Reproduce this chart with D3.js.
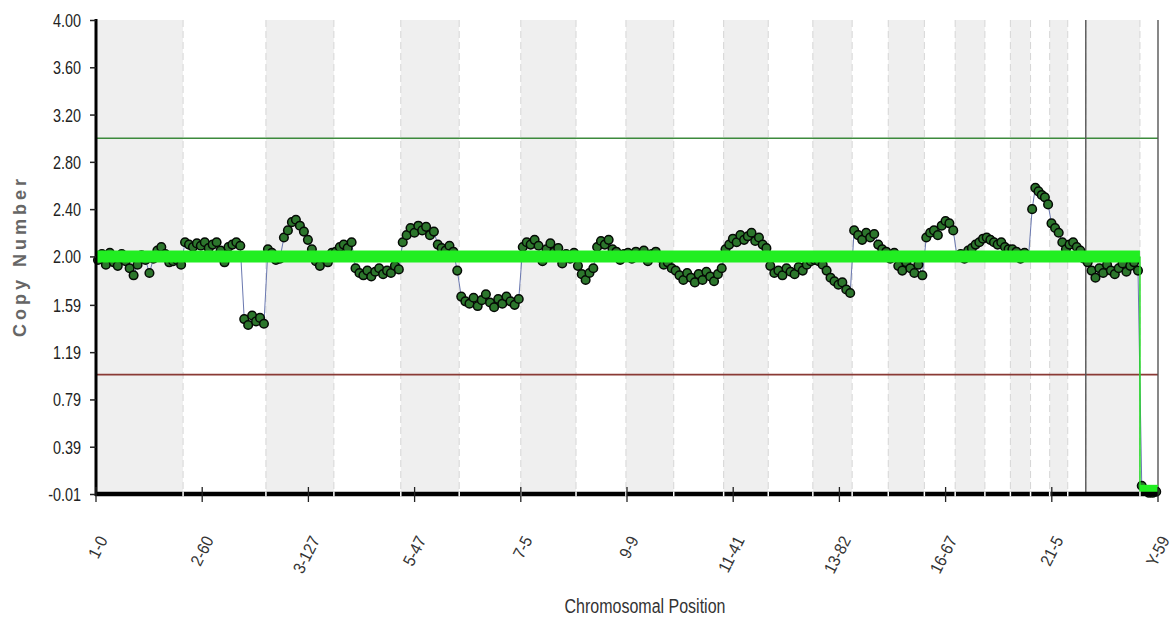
<!DOCTYPE html>
<html>
<head>
<meta charset="utf-8">
<script src="https://cdn.jsdelivr.net/npm/d3@7"></script>
<style>
  html,body{margin:0;padding:0;background:#fff}
  svg{display:block}
  text{font-family:"Liberation Sans",Arial,sans-serif}
</style>
</head>
<body>
<svg id="chart" width="1176" height="627"></svg>
<script>
// probe index runs 0..1000 along the genome; chromosome edges in that unit
const chromNames = ['1','2','3','4','5','6','7','8','9','10','11','12','13','14','15','16','17','18','19','20','21','22','X','Y'];
const chromEdges = [0, 82, 160, 224, 287, 342, 400, 452, 499, 544, 591, 633, 675, 712, 746, 780, 809, 837, 861, 880, 898, 915, 932, 983, 1000];
const refLevel = [2,2,2,2,2,2,2,2,2,2,2,2,2,2,2,2,2,2,2,2,2,2,2,0];

const xTickPos = [0, 100, 200, 300, 400, 500, 600, 700, 800, 900, 1000];
const xTickLabels = ['1-0', '2-60', '3-127', '5-47', '7-5', '9-9', '11-41', '13-82', '16-67', '21-5', 'Y-59'];
const yTicks = [-0.01, 0.39, 0.79, 1.19, 1.59, 2.00, 2.40, 2.80, 3.20, 3.60, 4.00];
const gainLine = 3.0;
const lossLine = 1.0;

// copy number per probe
const chr1 = [1.97, 2.02, 1.93, 2.03, 1.95, 1.92, 2.02, 1.96, 1.90, 1.84, 1.93, 2.01, 1.97, 1.86, 1.98, 2.05, 2.08, 2.02, 1.95, 1.96, 1.97, 1.93];
const chr2 = [2.12, 2.10, 2.08, 2.11, 2.09, 2.12, 2.07, 2.10, 2.12, 2.05, 1.95, 2.08, 2.10, 2.12, 2.09, 1.47, 1.42, 1.50, 1.45, 1.48, 1.43];
const chr3 = [2.06, 2.03, 1.97, 1.98, 2.16, 2.22, 2.29, 2.31, 2.26, 2.21, 2.14, 2.06, 1.96, 1.92, 2.00, 1.95, 2.03];
const chr4 = [2.04, 2.08, 2.10, 2.07, 2.12, 1.90, 1.86, 1.84, 1.88, 1.83, 1.87, 1.90, 1.85, 1.88, 1.86, 1.92, 1.89];
const chr5 = [2.12, 2.18, 2.24, 2.20, 2.26, 2.22, 2.25, 2.18, 2.21, 2.10, 2.07, 2.05, 2.09, 2.04, 1.88];
const chr6 = [1.66, 1.62, 1.60, 1.65, 1.58, 1.63, 1.68, 1.61, 1.57, 1.64, 1.60, 1.66, 1.62, 1.59, 1.64];
const chr7 = [2.08, 2.12, 2.10, 2.14, 2.09, 1.96, 2.06, 2.11, 2.04, 2.07, 1.94, 2.02, 1.98, 2.03];
const chr8 = [1.92, 1.85, 1.80, 1.86, 1.90, 2.08, 2.13, 2.10, 2.14, 2.06, 2.04, 1.97, 2.02];
const chr9 = [2.03, 1.98, 2.04, 2.01, 2.05, 1.96, 2.02, 2.04, 1.99, 1.93, 1.95, 1.90];
const chr10 = [1.88, 1.84, 1.80, 1.86, 1.82, 1.78, 1.85, 1.80, 1.87, 1.83, 1.79, 1.85, 1.90];
const chr11 = [2.06, 2.10, 2.15, 2.12, 2.18, 2.14, 2.17, 2.20, 2.13, 2.16, 2.10, 2.07];
const chr12 = [1.92, 1.86, 1.88, 1.84, 1.90, 1.87, 1.85, 1.91, 1.88, 1.93, 1.96];
const chr13 = [1.97, 1.96, 1.93, 1.88, 1.82, 1.79, 1.76, 1.78, 1.72, 1.69];
const chr14 = [2.22, 2.18, 2.14, 2.20, 2.16, 2.19, 2.10, 2.06, 2.04];
const chr15 = [1.98, 2.03, 1.92, 1.88, 1.95, 1.90, 1.86, 1.93, 1.84];
const chr16 = [2.16, 2.20, 2.22, 2.18, 2.26, 2.30, 2.28, 2.22];
const chr17 = [2.00, 2.02, 1.98, 2.05, 2.07, 2.10, 2.12, 2.15];
const chr18 = [2.16, 2.14, 2.12, 2.10, 2.12, 2.08, 2.06];
const chr19 = [2.06, 2.04, 1.98, 2.03, 2.00];
const chr20 = [2.40, 2.58, 2.55, 2.52, 2.50, 2.44];
const chr21 = [2.28, 2.24, 2.20, 2.12, 2.06];
const chr22 = [2.10, 2.12, 2.08, 2.05, 1.98];
const chrX = [1.95, 1.88, 1.82, 1.90, 1.86, 1.93, 1.88, 1.85, 1.90, 1.94, 1.87, 1.92, 1.95, 1.88];
const chrY = [0.06, 0.02, 0.00, 0.00, 0.01];

const chromValues = [chr1, chr2, chr3, chr4, chr5, chr6, chr7, chr8, chr9, chr10, chr11, chr12,
  chr13, chr14, chr15, chr16, chr17, chr18, chr19, chr20, chr21, chr22, chrX, chrY];

const plotLeft = 96, plotRight = 1158, plotTop = 20, plotBottom = 494;

const svg = d3.select('#chart');
const x = d3.scaleLinear().domain([0, 1000]).range([plotLeft, plotRight]);
const y = d3.scaleLinear().domain([-0.01, 4.00]).range([plotBottom, plotTop]);

// points: spread evenly inside each chromosome
const pts = [];
chromValues.forEach((vals, c) => {
  const a = chromEdges[c], b = chromEdges[c + 1], n = vals.length;
  vals.forEach((v, i) => pts.push({ c, p: a + (i + 0.5) * (b - a) / n, v }));
});

// Bands
const g = svg.append('g');
g.selectAll('rect.band').data(chromNames).enter().append('rect')
  .attr('x', (d, i) => x(chromEdges[i])).attr('y', y(4.00))
  .attr('width', (d, i) => x(chromEdges[i + 1]) - x(chromEdges[i]))
  .attr('height', y(-0.01) - y(4.00))
  .attr('fill', (d, i) => i % 2 === 0 ? '#efefef' : '#ffffff');

// Chromosome boundaries
g.selectAll('line.edge').data(chromEdges.slice(1, -1)).enter().append('line')
  .attr('x1', d => x(d)).attr('x2', d => x(d))
  .attr('y1', y(4.00)).attr('y2', plotBottom)
  .attr('stroke', '#d6d6d6').attr('stroke-width', 1).attr('stroke-dasharray', '7,4');

// threshold lines
g.append('line').attr('x1', plotLeft).attr('x2', plotRight).attr('y1', y(gainLine)).attr('y2', y(gainLine))
  .attr('stroke', '#3c8a3c').attr('stroke-width', 1.6);
g.append('line').attr('x1', plotLeft).attr('x2', plotRight).attr('y1', y(lossLine)).attr('y2', y(lossLine))
  .attr('stroke', '#8a3a35').attr('stroke-width', 1.6);

// X chromosome start and right edge
[chromEdges[22], chromEdges[24]].forEach(e => {
  g.append('line').attr('x1', x(e)).attr('x2', x(e)).attr('y1', y(4.00)).attr('y2', plotBottom)
    .attr('stroke', '#555').attr('stroke-width', 1.4);
});

// probe trace
g.append('path').datum(pts)
  .attr('fill', 'none').attr('stroke', '#6a78b0').attr('stroke-width', 1)
  .attr('d', d3.line().x(d => x(d.p)).y(d => y(d.v)));

g.selectAll('circle.pt').data(pts).enter().append('circle')
  .attr('cx', d => x(d.p)).attr('cy', d => y(d.v)).attr('r', 4.3)
  .attr('fill', '#2c762c').attr('stroke', '#050a05').attr('stroke-width', 1.5);

// reference level (thick green)
const refPts = [];
refLevel.forEach((lv, c) => {
  refPts.push({ p: chromEdges[c], v: lv }, { p: chromEdges[c + 1], v: lv });
});
g.append('path').datum(refPts.slice(0, 46))
  .attr('fill', 'none').attr('stroke', '#22ee22').attr('stroke-width', 12)
  .attr('d', d3.line().x(d => x(d.p)).y(d => y(d.v)));
g.append('path').datum(refPts.slice(45, 47))
  .attr('fill', 'none').attr('stroke', '#22dd22').attr('stroke-width', 1.5)
  .attr('d', d3.line().x(d => x(d.p)).y(d => y(d.v)));
g.append('path').datum(refPts.slice(46))
  .attr('fill', 'none').attr('stroke', '#22ee22').attr('stroke-width', 8)
  .attr('d', d3.line().x(d => x(d.p)).y(d => y(d.v) - 4));

// Axes
const yAxis = g.append('g').attr('transform', `translate(${plotLeft},0)`)
  .call(d3.axisLeft(y).tickValues(yTicks).tickSize(6).tickFormat(d => d.toFixed(2)));
yAxis.attr('font-family', null).attr('font-size', null);
yAxis.select('.domain').attr('stroke', '#000').attr('stroke-width', 3)
  .attr('d', `M0,${y(4.00) - 1}V${plotBottom + 2}`);
yAxis.selectAll('.tick line').attr('stroke', '#222').attr('stroke-width', 1.5);
yAxis.selectAll('.tick text')
  .attr('x', null).attr('dy', '0.36em')
  .attr('transform', 'translate(-15,0) scale(0.8,1)')
  .attr('text-anchor', 'end')
  .style('font-size', '18px').attr('fill', '#222');

const xAxis = g.append('g').attr('transform', `translate(0,${plotBottom})`);
xAxis.append('line').attr('x1', plotLeft - 1).attr('x2', plotRight).attr('y1', 0).attr('y2', 0)
  .attr('stroke', '#000').attr('stroke-width', 4.5);
xAxis.selectAll('line.brk').data(chromEdges.slice(1, -1).filter((d, i) => i !== 21)).enter().append('line')
  .attr('x1', d => x(d)).attr('x2', d => x(d)).attr('y1', -2.5).attr('y2', 2.5)
  .attr('stroke', '#fff').attr('stroke-width', 1.5);
xAxis.selectAll('line.tk').data(xTickPos).enter().append('line')
  .attr('x1', d => x(d)).attr('x2', d => x(d)).attr('y1', -7).attr('y2', 8)
  .attr('stroke', '#222').attr('stroke-width', 1.3);
xAxis.selectAll('text.tl').data(xTickPos).enter().append('text')
  .attr('transform', d => `translate(${x(d) + 12},46) rotate(-63) scale(0.9,1)`)
  .attr('text-anchor', 'end').style('font-size', '17px').attr('fill', '#333')
  .text((d, i) => xTickLabels[i]);

svg.append('text')
  .attr('transform', 'translate(645,613) scale(0.8,1)').attr('text-anchor', 'middle')
  .style('font-size', '20px').attr('fill', '#333').text('Chromosomal Position');

svg.append('text')
  .attr('transform', 'translate(26,256) rotate(-90)').attr('text-anchor', 'middle')
  .style('font-size', '18px').style('font-weight', 'bold')
  .style('letter-spacing', '4px').attr('fill', '#666').text('Copy Number');
</script>
</body>
</html>
